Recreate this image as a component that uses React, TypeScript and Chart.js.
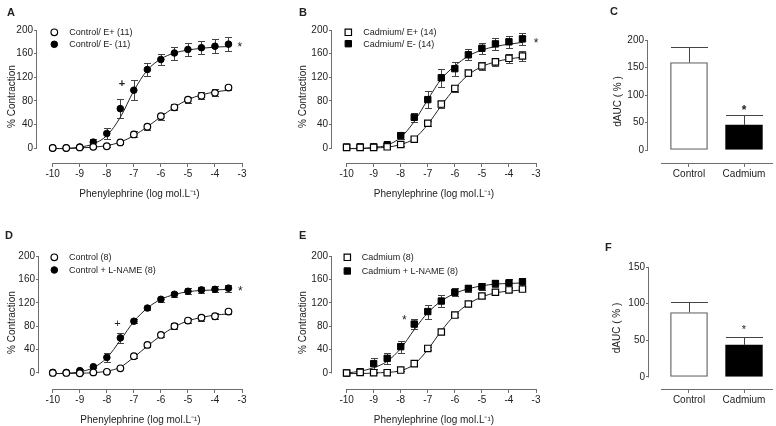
import React, { useEffect, useRef } from "react";
import { Chart, registerables } from "chart.js";

Chart.register(...registerables);

const FONT = '"Liberation Sans", Arial, Helvetica, sans-serif';
Chart.defaults.font.family = FONT;
Chart.defaults.font.size = 10;
Chart.defaults.color = "#222";

const TEXT = "#222";
const AXIS = "#6e6e6e";
const ERR = "#444";
const CURVE = "#222";

// ---------- data ----------
const logConc = [-10, -9.5, -9, -8.5, -8, -7.5, -7, -6.5, -6, -5.5, -5, -4.5, -4, -3.5];
const xTicks = [-10, -9, -8, -7, -6, -5, -4, -3];
const curveYTicks = [0, 40, 80, 120, 160, 200];
const xTitle = "Phenylephrine (log mol.L\u207B\u00B9)";
const yTitle = "% Contraction";

// Panel A
const ctrlEPlus = [0, 0, 1, 2, 3, 9.5, 23, 36, 54, 69, 82, 88.5, 93.5, 102.5];
const ctrlEPlusSem = [0, 0, 1, 2, 2, 3, 5, 5, 6, 5, 5, 6, 6, 5];
const ctrlEPlusFit = [-1, -1, 0, 1.5, 4, 10, 21, 36, 53, 69, 82, 90, 95, 98];
const ctrlEMinus = [0, 0, 1.7, 10, 24.6, 66.7, 98, 133, 150, 161, 167, 170, 172.5, 176];
const ctrlEMinusSem = [0, 0, 1, 6, 10, 16, 17, 11, 9, 11, 11, 11, 12, 12];
const ctrlEMinusFit = [-1, -0.5, 1.5, 7, 21, 52, 97, 132, 151, 161, 166, 169, 171, 172];

// Panel B
const cdEPlus = [1, 1, 1, 2, 6, 15, 42, 74.5, 101, 127, 139, 146, 152, 156];
const cdEPlusSem = [0, 0, 0, 1, 2, 3, 4, 6, 6, 5, 6, 7, 8, 8];
const cdEPlusFit = [-1, -1, 0, 1.5, 6, 16, 40, 72, 101, 124, 138, 146, 151, 154];
const cdEMinus = [1.7, 2, 2, 5.6, 21, 52, 82, 119, 134.5, 158, 169, 176.5, 180, 185];
const cdEMinusSem = [0, 0, 1, 2, 6, 8, 15, 15, 12, 9, 9, 10, 10, 10];
const cdEMinusFit = [-1, -0.5, 1, 5, 18, 45, 82, 117, 139, 156, 166, 172, 176, 179];

// Panel D
const ctrl8 = [0, 0, -0.5, 1, 2, 8, 28.7, 48, 65, 80, 89.6, 94.6, 97, 105];
const ctrl8Sem = [0, 0, 1, 1, 1, 2, 3, 4, 4, 5, 5, 5, 5, 4];
const ctrl8Fit = [-1, -1, -0.5, 0.5, 3, 10, 27, 46, 64, 79, 89, 95, 99, 101];
const ctrlLN = [1, 1, 4, 10.7, 26.5, 60, 88.5, 111, 126, 134.6, 139.7, 142, 143, 145];
const ctrlLNSem = [0, 0, 2, 3, 8, 8, 3, 3, 4, 4, 5, 5, 5, 6];
const ctrlLNFit = [-1, -0.5, 2, 9, 26, 56, 88, 111, 126, 134, 139, 141, 142, 143];

// Panel E
const cd8 = [0, 1, 0.5, 0.5, 5, 16, 42, 70, 99, 118, 131.6, 138, 142, 143.5];
const cd8Sem = [0, 0, 1, 1, 2, 2, 3, 4, 4, 3, 3, 3, 4, 4];
const cd8Fit = [-1, -1, 0, 1, 4, 15, 40, 72, 99, 118, 130, 137, 140, 142];
const cdLN = [0, 2, 16, 25, 45, 83.6, 105, 123, 138, 144.6, 147.5, 153, 154, 156];
const cdLNSem = [0, 0, 9, 9, 10, 9, 12, 10, 7, 6, 6, 6, 7, 7];
const cdLNFit = [0, 3, 9, 20, 42, 74, 103, 123, 136, 144, 149, 152, 153, 154];

// Panels C and F (bars)
const barGroups = ["Control", "Cadmium"];
const dAucC = [159, 46];
const dAucCSem = [28, 17];
const dAucF = [88, 44];
const dAucFSem = [14.5, 11];
const cYTicks = [0, 50, 100, 150, 200];
const fYTicks = [0, 50, 100, 150];
const barYTitle = "dAUC ( % )";

// ---------- drawing helpers ----------
function drawMarker(ctx: CanvasRenderingContext2D, x: number, y: number, shape: string, filled: boolean) {
  ctx.save();
  ctx.beginPath();
  if (shape === "rect") {
    const s = 6.4;
    ctx.rect(x - s / 2, y - s / 2, s, s);
  } else {
    ctx.arc(x, y, 3.3, 0, Math.PI * 2);
  }
  ctx.fillStyle = filled ? "#000" : "#fff";
  ctx.fill();
  ctx.lineWidth = filled ? 1 : 1.2;
  ctx.strokeStyle = "#000";
  ctx.stroke();
  ctx.restore();
}

function seg(ctx: CanvasRenderingContext2D, x1: number, y1: number, x2: number, y2: number) {
  ctx.beginPath();
  ctx.moveTo(x1, y1);
  ctx.lineTo(x2, y2);
  ctx.stroke();
}

function decorPlugin(d: any) {
  return {
    id: "decor",
    beforeDatasetsDraw(chart: any) {
      const { ctx, chartArea } = chart;
      const xs = chart.scales.x;
      const ys = chart.scales.y;
      ctx.save();
      ctx.lineWidth = 1;
      ctx.strokeStyle = AXIS;
      const ax = Math.round(chartArea.left) - 0.5;
      seg(ctx, ax, ys.getPixelForValue(d.yLine[1]), ax, ys.getPixelForValue(d.yLine[0]) + 0.5);
      const by = Math.round(chartArea.bottom) + 0.5;
      seg(ctx, xs.getPixelForValue(d.xLine[0]), by, xs.getPixelForValue(d.xLine[1]), by);
      // error bars
      ctx.strokeStyle = ERR;
      chart.data.datasets.forEach((ds: any, di: number) => {
        const sem = ds.sem;
        if (!sem) return;
        const meta = chart.getDatasetMeta(di);
        meta.data.forEach((el: any, i: number) => {
          const e = sem[i];
          if (!e) return;
          const v = ds.data[i].y;
          const px = Math.round(el.x) + 0.5;
          const top = Math.round(ys.getPixelForValue(v + e)) + 0.5;
          if (d.bar) {
            const half = el.width / 2;
            seg(ctx, px, top, px, ys.getPixelForValue(v));
            seg(ctx, px - half, top, px + half, top);
          } else {
            const bot = Math.round(ys.getPixelForValue(v - e)) + 0.5;
            seg(ctx, px, top, px, bot);
            seg(ctx, px - 3.5, top, px + 3.5, top);
            seg(ctx, px - 3.5, bot, px + 3.5, bot);
          }
        });
      });
      ctx.restore();
    },
    afterDraw(chart: any) {
      const { ctx } = chart;
      const xs = chart.scales.x;
      const ys = chart.scales.y;
      ctx.save();
      ctx.fillStyle = TEXT;
      ctx.textAlign = "left";
      ctx.textBaseline = "alphabetic";
      ctx.font = `bold 11px ${FONT}`;
      ctx.fillText(d.letter, d.letterPos[0], d.letterPos[1]);
      (d.legend || []).forEach((it: any) => {
        drawMarker(ctx, it.x, it.y, it.shape, it.filled);
        ctx.fillStyle = TEXT;
        ctx.font = `9px ${FONT}`;
        ctx.textAlign = "left";
        ctx.textBaseline = "middle";
        ctx.fillText(it.label, d.legendTextX, it.y + 0.5);
      });
      (d.notes || []).forEach((n: any) => {
        ctx.font = `${n.font} ${FONT}`;
        ctx.textAlign = "center";
        ctx.textBaseline = "alphabetic";
        const m = ctx.measureText(n.text);
        const off = (m.actualBoundingBoxAscent - m.actualBoundingBoxDescent) / 2;
        ctx.fillText(n.text, xs.getPixelForValue(n.x), ys.getPixelForValue(n.y) + off);
      });
      ctx.restore();
    },
  };
}

function axisCommon(tickLen: number) {
  return {
    grid: { drawOnChartArea: false, drawTicks: true, tickLength: tickLen, color: AXIS, lineWidth: 1, offset: false },
    border: { display: false },
  };
}

function curveConfig(p: any) {
  const datasets: any[] = [];
  p.series.forEach((s: any) => {
    datasets.push({
      label: s.label,
      data: logConc.map((x, i) => ({ x, y: s.values[i] })),
      sem: s.sem,
      showLine: false,
      pointStyle: s.shape,
      pointRadius: s.shape === "rect" ? 4.5 : 3.3,
      pointBackgroundColor: s.filled ? "#000" : "#fff",
      pointBorderColor: "#000",
      pointBorderWidth: s.filled ? 1 : 1.2,
      clip: false,
      order: 0,
    });
  });
  p.series.forEach((s: any) => {
    datasets.push({
      label: s.label + " fit",
      data: logConc.map((x, i) => ({ x, y: s.fit[i] })),
      showLine: true,
      pointRadius: 0,
      borderColor: CURVE,
      borderWidth: 1,
      cubicInterpolationMode: "monotone",
      clip: false,
      order: 1,
    });
  });
  return {
    type: "scatter",
    data: { datasets },
    options: {
      responsive: false,
      maintainAspectRatio: false,
      animation: false,
      events: [],
      layout: { padding: { left: 0, top: p.padTop, right: p.padRight, bottom: 0 } },
      plugins: { legend: { display: false }, tooltip: { enabled: false } },
      scales: {
        x: {
          type: "linear",
          min: p.xMin,
          max: -3,
          afterBuildTicks: (s: any) => {
            s.ticks = xTicks.map((v) => ({ value: v }));
          },
          afterFit: (s: any) => {
            s.height = 37;
          },
          ticks: { autoSkip: false, maxRotation: 0, padding: 1, color: TEXT, font: { size: 10 }, callback: (v: any) => String(v) },
          ...axisCommon(4),
          title: { display: true, text: xTitle, color: TEXT, font: { size: 10 }, padding: { top: 0, bottom: 0 } },
        },
        y: {
          type: "linear",
          min: p.yMin,
          max: 200,
          afterBuildTicks: (s: any) => {
            s.ticks = curveYTicks.map((v) => ({ value: v }));
          },
          afterFit: (s: any) => {
            s.width = p.yAxisW;
          },
          ticks: { padding: 1, color: TEXT, font: { size: 10 }, callback: (v: any) => String(v) },
          ...axisCommon(3),
          title: { display: true, text: yTitle, color: TEXT, font: { size: 10 }, padding: { top: p.yTitlePad, bottom: 0 } },
        },
      },
    },
    plugins: [
      decorPlugin({
        letter: p.letter,
        letterPos: p.letterPos,
        xLine: [-10, -3],
        yLine: [0, 200],
        legend: p.series.map((s: any, i: number) => ({
          x: p.legend[i][0],
          y: p.legend[i][1],
          shape: s.shape,
          filled: s.filled,
          label: s.label,
        })),
        legendTextX: p.legendTextX,
        notes: p.notes,
      }),
    ],
  };
}

function barConfig(p: any) {
  return {
    type: "bar",
    data: {
      datasets: [
        {
          data: p.values.map((y: number, i: number) => ({ x: i, y })),
          sem: p.sem,
          backgroundColor: ["#fff", "#000"],
          borderColor: ["#666", "#000"],
          borderWidth: 1.3,
          borderSkipped: false,
          barThickness: 37,
        },
      ],
    },
    options: {
      responsive: false,
      maintainAspectRatio: false,
      animation: false,
      events: [],
      layout: { padding: { left: 0, top: p.padTop, right: p.padRight, bottom: 0 } },
      plugins: { legend: { display: false }, tooltip: { enabled: false } },
      scales: {
        x: {
          type: "linear",
          offset: false,
          min: p.xMin,
          max: p.xMax,
          afterBuildTicks: (s: any) => {
            s.ticks = barGroups.map((_, i) => ({ value: i }));
          },
          afterFit: (s: any) => {
            s.height = 37;
          },
          ticks: { autoSkip: false, maxRotation: 0, padding: 1, color: TEXT, font: { size: 10 }, callback: (v: any) => barGroups[v] ?? "" },
          ...axisCommon(4),
          title: { display: false },
        },
        y: {
          type: "linear",
          min: p.yMin,
          max: p.yMax,
          afterBuildTicks: (s: any) => {
            s.ticks = p.yTicks.map((v: number) => ({ value: v }));
          },
          afterFit: (s: any) => {
            s.width = p.yAxisW;
          },
          ticks: { padding: 1, color: TEXT, font: { size: 10 }, callback: (v: any) => String(v) },
          ...axisCommon(3),
          title: { display: true, text: barYTitle, color: TEXT, font: { size: 10 }, padding: { top: p.yTitlePad, bottom: 0 } },
        },
      },
    },
    plugins: [
      decorPlugin({
        bar: true,
        letter: p.letter,
        letterPos: p.letterPos,
        xLine: [-0.51, p.xMax],
        yLine: [0, p.yMax],
        notes: [p.note],
      }),
    ],
  };
}

// ---------- panels ----------
const panelA = {
  letter: "A", letterPos: [7, 15.5], left: 0, top: 0, w: 265, h: 200,
  yAxisW: 37, padTop: 30, padRight: 23, xMin: -10.58, yMin: -25.4, yTitlePad: 6,
  series: [
    { label: "Control/ E+ (11)", values: ctrlEPlus, sem: ctrlEPlusSem, fit: ctrlEPlusFit, shape: "circle", filled: false },
    { label: "Control/ E- (11)", values: ctrlEMinus, sem: ctrlEMinusSem, fit: ctrlEMinusFit, shape: "circle", filled: true },
  ],
  legend: [[54.3, 32.3], [54.3, 44.3]], legendTextX: 69.3,
  notes: [
    { text: "*", x: -3.08, y: 176, font: "12px" },
    { text: "+", x: -7.44, y: 110, font: "bold 11px" },
  ],
};

const panelB = {
  letter: "B", letterPos: [9, 15.5], left: 290, top: 0, w: 265, h: 200,
  yAxisW: 42, padTop: 30, padRight: 19, xMin: -10.54, yMin: -25.4, yTitlePad: 7,
  series: [
    { label: "Cadmium/ E+ (14)", values: cdEPlus, sem: cdEPlusSem, fit: cdEPlusFit, shape: "rect", filled: false },
    { label: "Cadmium/ E- (14)", values: cdEMinus, sem: cdEMinusSem, fit: cdEMinusFit, shape: "rect", filled: true },
  ],
  legend: [[58.3, 32.3], [58.3, 43.7]], legendTextX: 73.3,
  notes: [{ text: "*", x: -3.0, y: 183, font: "12px" }],
};

const panelD = {
  letter: "D", letterPos: [5, 24], left: 0, top: 215, w: 265, h: 211,
  yAxisW: 39, padTop: 41, padRight: 23, xMin: -10.51, yMin: -27.4, yTitlePad: 6,
  series: [
    { label: "Control (8)", values: ctrl8, sem: ctrl8Sem, fit: ctrl8Fit, shape: "circle", filled: false },
    { label: "Control + L-NAME (8)", values: ctrlLN, sem: ctrlLNSem, fit: ctrlLNFit, shape: "circle", filled: true },
  ],
  legend: [[54.3, 42.3], [54.3, 55]], legendTextX: 69,
  notes: [
    { text: "*", x: -3.06, y: 145, font: "12px" },
    { text: "+", x: -7.61, y: 86, font: "11px" },
  ],
};

const panelE = {
  letter: "E", letterPos: [9, 24], left: 290, top: 215, w: 265, h: 211,
  yAxisW: 42, padTop: 41, padRight: 19, xMin: -10.54, yMin: -27.4, yTitlePad: 7,
  series: [
    { label: "Cadmium (8)", values: cd8, sem: cd8Sem, fit: cd8Fit, shape: "rect", filled: false },
    { label: "Cadmium + L-NAME (8)", values: cdLN, sem: cdLNSem, fit: cdLNFit, shape: "rect", filled: true },
  ],
  legend: [[57.3, 42.3], [57.3, 56]], legendTextX: 71.7,
  notes: [{ text: "*", x: -7.87, y: 95, font: "12px" }],
};

const panelC = {
  letter: "C", letterPos: [20, 14.5], left: 590, top: 0, w: 186, h: 200,
  yAxisW: 58, padTop: 40, padRight: 3, xMin: -0.745, xMax: 1.527, yMin: -23.6, yMax: 200,
  yTicks: cYTicks, yTitlePad: 22, values: dAucC, sem: dAucCSem,
  note: { text: "*", x: 1, y: 78, font: "bold 12px" },
};

const panelF = {
  letter: "F", letterPos: [15, 36], left: 590, top: 215, w: 186, h: 211,
  yAxisW: 59, padTop: 52, padRight: 3, xMin: -0.727, xMax: 1.527, yMin: -16.4, yMax: 150,
  yTicks: fYTicks, yTitlePad: 21, values: dAucF, sem: dAucFSem,
  note: { text: "*", x: 1, y: 68.6, font: "11px" },
};

function Panel({ p, make }: { p: any; make: (p: any) => any }) {
  const ref = useRef<HTMLCanvasElement>(null);
  useEffect(() => {
    const chart = new Chart(ref.current as HTMLCanvasElement, make(p));
    return () => chart.destroy();
  }, []);
  return (
    <canvas
      ref={ref}
      width={p.w}
      height={p.h}
      style={{ position: "absolute", left: p.left, top: p.top, width: p.w, height: p.h }}
    />
  );
}

export default function App() {
  return (
    <div style={{ position: "fixed", left: 0, top: 0, width: 776, height: 426, background: "#fff", overflow: "hidden" }}>
      <Panel p={panelA} make={curveConfig} />
      <Panel p={panelB} make={curveConfig} />
      <Panel p={panelC} make={barConfig} />
      <Panel p={panelD} make={curveConfig} />
      <Panel p={panelE} make={curveConfig} />
      <Panel p={panelF} make={barConfig} />
    </div>
  );
}
